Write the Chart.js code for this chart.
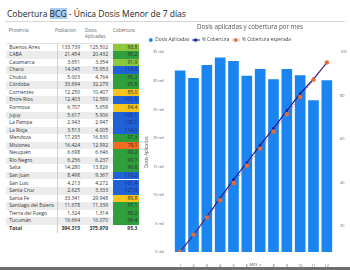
<!DOCTYPE html>
<html><head><meta charset="utf-8">
<script src="https://cdn.jsdelivr.net/npm/chart.js@4"></script>
<style>
html,body{margin:0;padding:0}
body{width:350px;height:270px;overflow:hidden;background:#fff;font-family:"Open Sans",sans-serif;position:relative;color:#333}
#title{position:absolute;left:7px;top:8px;font-size:8.5px;line-height:12px;color:#252423;white-space:nowrap}
#title .hl{background:#a9cbf2}
#rule{position:absolute;left:5px;top:21px;width:340px;height:1px;background:#d6d6d6}
.h{position:absolute;font-size:4.6px;line-height:6px;color:#666;white-space:nowrap}
.r{position:absolute;left:6px;width:106.7px;font-size:5px;white-space:nowrap}
.c{position:absolute;white-space:nowrap}
#sep{position:absolute;left:56.5px;top:44px;width:1px;height:189px;background:#cfcfcf}
#hline{position:absolute;left:6px;top:43px;width:134px;height:1px;background:#e2e2e2}
#chartBox{position:absolute;left:140px;top:22px;width:217.4px;height:245px}
#footer{position:absolute;left:0;top:267px;width:350px;height:3px;background:#6f6f6f}
</style></head><body>
<div id="title">Cobertura <span class="hl">BCG</span> - Única Dosis Menor de 7 días</div>
<div id="rule"></div>
<div id="tbl"></div>
<div id="chartBox"><canvas id="c"></canvas></div>
<div id="footer"></div>
<script>
// ---- Table data ----
const provincias = ['Buenos Aires','CABA','Catamarca','Chaco','Chubut','Córdoba','Corrientes','Entre Ríos','Formosa','Jujuy','La Pampa','La Rioja','Mendoza','Misiones','Neuquén','Río Negro','Salta','San Juan','San Luis','Santa Cruz','Santa Fe','Santiago del Estero','Tierra del Fuego','Tucumán'];
const poblacion = [133739,21454,3651,14045,5003,33694,12250,12403,6707,5617,2943,3513,17295,16424,6698,6256,14280,8498,4213,2625,33341,11678,1324,16664];
const dosisProv = [125502,20432,3354,15953,4764,32279,10407,12589,5658,5906,2947,4005,16830,12992,6646,6237,13826,9367,4272,3333,29948,11339,1314,16070];
const coberturaProv = [93.8,95.2,91.9,113.6,95.2,95.8,85.0,101.5,84.4,105.1,100.1,114.0,97.3,79.1,99.2,99.7,96.8,110.2,101.4,127.0,89.8,97.1,99.2,96.4];
const totalPoblacion = 394315;
const totalDosis = 375970;
const totalCobertura = 95.3;

// ---- Chart data ----
const meses = ['1','2','3','4','5','6','7','8','9','10','11','12'];
const dosisMes = [31800,30500,32800,34100,33500,30900,32100,30300,32100,31000,26600,30100];
const coberturaMes = [8.1,15.8,24.1,32.8,41.3,49.1,57.2,64.9,73.1,80.9,87.7,95.3];
const coberturaEsperada = [7.9,15.9,23.8,31.8,39.7,47.7,55.6,63.5,71.5,79.4,87.4,95.3];
const yTicksDerecha = [20,40,60,80,100];

// ---- build table ----
const fmtInt = v => v.toLocaleString('de-DE');
const fmtPct = v => v.toFixed(1).replace('.', ',');
function cellColor(v){
  if (v >= 100) return '#2161d6';
  if (v >= 95) return '#2f9e3c';
  if (v >= 90) return '#8dc63f';
  if (v >= 80) return '#f5c41d';
  return '#f36a21';
}
const tbl = document.getElementById('tbl');
let html = '';
html += '<div class="h" style="left:9px;top:27px">Provincia</div>';
html += '<div class="h" style="left:55px;top:27px">Poblacion</div>';
html += '<div class="h" style="left:85px;top:27px">Dosis<br>Aplicadas</div>';
html += '<div class="h" style="left:113px;top:27px">Cobertura</div>';
const ROW0 = 43.6, RH = 7.55;
provincias.forEach((p, i) => {
  const top = ROW0 + i * RH;
  const bg = i % 2 ? '#ececec' : 'transparent';
  const txt = coberturaProv[i] >= 100 ? '#1b2a6b' : '#2b2b2b';
  html += `<div class="r" style="top:${top}px;height:${RH}px;line-height:${RH}px;background:${bg}">`+
    `<span class="c" style="left:3.3px">${p}</span>`+
    `<span class="c" style="right:${112.7-80}px">${fmtInt(poblacion[i])}</span>`+
    `<span class="c" style="right:${112.7-108}px">${fmtInt(dosisProv[i])}</span></div>`;
  html += `<div class="r" style="left:112.7px;width:26.6px;top:${top}px;height:${RH}px;line-height:${RH}px;background:${cellColor(coberturaProv[i])};color:${txt}">`+
    `<span class="c" style="right:2px">${fmtPct(coberturaProv[i])}</span></div>`;
});
const tTop = ROW0 + provincias.length * RH + 0.5;
html += `<div class="r" style="top:${tTop}px;height:${RH}px;line-height:${RH}px;font-weight:bold;width:134px">`+
  `<span class="c" style="left:3.3px">Total</span>`+
  `<span class="c" style="right:${140-80}px">${fmtInt(totalPoblacion)}</span>`+
  `<span class="c" style="right:${140-108}px">${fmtInt(totalDosis)}</span>`+
  `<span class="c" style="right:${140-137.3}px">${fmtPct(totalCobertura)}</span></div>`;
html += '<div id="sep"></div><div id="hline"></div>';
tbl.innerHTML = html;

// ---- legend icons ----
const BLUE = '#1a85f0', NAVY = '#12239e', ORANGE = '#e66c37', RED = '#d9473a';
const ICON_W = 8;
function icon(kind){
  const cv = document.createElement('canvas');
  cv.width = ICON_W; cv.height = 6;
  const g = cv.getContext('2d');
  if (kind === 0){
    g.fillStyle = BLUE; g.beginPath(); g.arc(ICON_W-2.2, 3, 1.9, 0, Math.PI*2); g.fill();
  } else if (kind === 1){
    g.strokeStyle = NAVY; g.lineWidth = 1; g.beginPath(); g.moveTo(0,3); g.lineTo(ICON_W,3); g.stroke();
    g.fillStyle = NAVY; g.beginPath(); g.arc(ICON_W/2, 3, 1.8, 0, Math.PI*2); g.fill();
  } else {
    g.strokeStyle = RED; g.lineWidth = 0.8; g.setLineDash([1.2,1.2]); g.beginPath(); g.moveTo(0,3); g.lineTo(ICON_W,3); g.stroke();
    g.fillStyle = ORANGE; g.beginPath(); g.arc(ICON_W/2, 3, 1.9, 0, Math.PI*2); g.fill();
  }
  return cv;
}
const icons = [icon(0), icon(1), icon(2)];

new Chart(document.getElementById('c'), {
  data: {
    labels: meses,
    datasets: [
      { type:'bar', label:'Dosis Aplicadas', data: dosisMes, yAxisID:'y', backgroundColor: BLUE, borderWidth:0,
        categoryPercentage:0.8, barPercentage:1.0, order:3 },
      { type:'line', label:'% Cobertura', data: coberturaMes, yAxisID:'y1', borderColor: NAVY, borderWidth:1.2,
        pointRadius:1.4, pointBackgroundColor: NAVY, pointBorderWidth:0, order:2 },
      { type:'line', label:'% Cobertura esperada', data: coberturaEsperada, yAxisID:'y1', borderColor: RED, borderWidth:0.9,
        borderDash:[1.5,1.5], pointRadius:2.2, pointBackgroundColor: ORANGE, pointBorderWidth:0, order:1 }
    ]
  },
  options: {
    responsive:true, maintainAspectRatio:false, animation:false, devicePixelRatio:1,
    layout:{ padding:{ left:2.6, right:0, top:0, bottom:0 } },
    plugins:{
      tooltip:{enabled:false},
      title:{ display:true, text:'Dosis aplicadas y cobertura por mes', color:'#555',
        font:{ family:'Open Sans', size:6.3, weight:'normal' }, padding:{ top:1.7, bottom:4 } },
      legend:{ display:true, position:'top', align:'start',
        labels:{ usePointStyle:true, pointStyleWidth:ICON_W, padding:2.4, color:'#444',
          font:{ family:'Open Sans', size:4.7 },
          generateLabels: (chart) => chart.data.datasets.map((ds,i)=>({
            text: ds.label, pointStyle: icons[i], datasetIndex:i, hidden:false,
            fontColor:'#444', lineWidth:0, strokeStyle:'rgba(0,0,0,0)', fillStyle:'rgba(0,0,0,0)'
          }))
        } }
    },
    scales:{
      x:{ grid:{display:false}, border:{display:false},
        ticks:{ color:'#666', font:{family:'Open Sans', size:3.9}, padding:3.3, maxRotation:0, autoSkip:false },
        title:{ display:true, text:'MES', color:'#555', font:{family:'Open Sans', size:4}, padding:{top:0,bottom:0} },
        afterFit: s => { s.height = 15; } },
      y:{ position:'left', min:0, max:35000, grid:{display:false, drawTicks:false}, border:{display:false},
        ticks:{ stepSize:5000, color:'#666', font:{family:'Open Sans', size:3.9}, padding:9.5,
          callback: v => (v/1000) + ' mil' },
        title:{ display:true, text:'Dosis Aplicadas', color:'#555', font:{family:'Open Sans', size:4.4}, padding:{top:1.8,bottom:0} },
        afterFit: s => { s.width = 30.9; s.paddingTop = 28.2; } },
      y1:{ position:'right', min:7.9, max:100, grid:{display:false, drawTicks:false}, border:{display:false},
        afterBuildTicks: s => { s.ticks = yTicksDerecha.map(v => ({value:v})); },
        ticks:{ color:'#666', font:{family:'Open Sans', size:3.9}, padding:6.5, autoSkip:false },
        afterFit: s => { s.width = 23.9; } }
    }
  }
});
</script>
</body></html>
